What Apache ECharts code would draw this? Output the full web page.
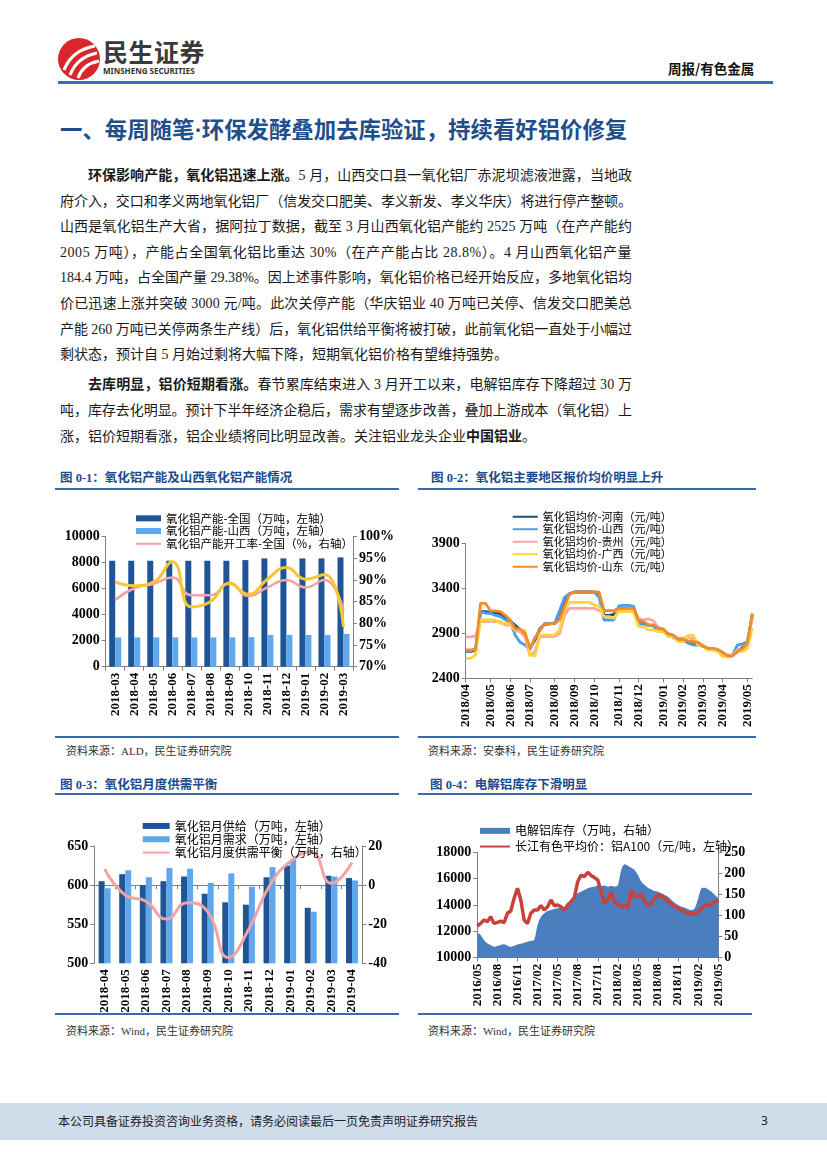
<!DOCTYPE html>
<html><head><meta charset="utf-8">
<script src="https://cdn.jsdelivr.net/npm/echarts@6/dist/echarts.min.js"></script>
<style>
body{margin:0;background:#fff;}
#page{position:relative;width:827px;height:1169px;overflow:hidden;font-family:"Liberation Serif","Noto Sans CJK SC",serif;color:#1a1a1a;background:#fff;}
.abs{position:absolute;}
.tl{position:absolute;left:60px;width:572px;font-size:14px;line-height:20px;height:20px;white-space:nowrap;}
.tl b{font-family:"Liberation Serif","Noto Sans CJK SC";font-weight:bold;}
.ctitle{position:absolute;font-size:12.5px;font-weight:bold;color:#1c4b8c;font-family:"Liberation Serif","Noto Sans CJK SC";line-height:16px;}
.rule{position:absolute;height:2px;background:#3b6aa8;}
.src{position:absolute;font-size:11px;color:#333;line-height:14px;font-family:"Liberation Serif","Noto Sans CJK SC";}
.chart{position:absolute;}
</style></head>
<body><div id="page">
<!-- header -->
<svg class="abs" style="left:57px;top:37px" width="44" height="44" viewBox="0 0 44 44">
<circle cx="22" cy="22" r="21" fill="#d9262c"/>
<path d="M7 33 Q15 13 38 9" stroke="#fff" stroke-width="3.2" fill="none"/>
<path d="M13 38 Q20 20 40 16" stroke="#fff" stroke-width="3.2" fill="none"/>
<path d="M21 41 Q26 27 42 24" stroke="#fff" stroke-width="3.2" fill="none"/>
</svg>
<div class="abs" style="left:103px;top:37px;font-family:'Noto Sans CJK SC';font-weight:bold;font-size:25px;line-height:28px;color:#3a3a3a;letter-spacing:0.5px;">民生证券</div>
<div class="abs" style="left:103px;top:66px;font-family:'Noto Sans';font-weight:bold;font-size:8px;line-height:10px;color:#333;">MINSHENG SECURITIES</div>
<div class="abs" style="left:668px;top:60px;font-family:'Noto Sans CJK SC';font-weight:bold;font-size:13.5px;line-height:16px;color:#111;">周报/有色金属</div>
<div class="abs" style="left:58px;top:81px;width:715px;height:3px;background:#3570b3;"></div>

<div class="abs" style="left:60px;top:114px;font-family:'Noto Sans CJK SC';font-weight:bold;font-size:22.4px;line-height:28px;color:#1f4e8c;white-space:nowrap;">一、每周随笔<span style="font-family:'Liberation Serif';">·</span>环保发酵叠加去库验证，持续看好铝价修复</div>

<div class="tl" style="top:166px;padding-left:28px;width:544px;"><b>环保影响产能，氧化铝迅速上涨。</b>5 月，山西交口县一氧化铝厂赤泥坝滤液泄露，当地政</div>
<div class="tl" style="top:192px;">府介入，交口和孝义两地氧化铝厂（信发交口肥美、孝义新发、孝义华庆）将进行停产整顿。</div>
<div class="tl" style="top:217px;">山西是氧化铝生产大省，据阿拉丁数据，截至 3 月山西氧化铝产能约 2525 万吨（在产产能约</div>
<div class="tl" style="top:243px;">2005 万吨），产能占全国氧化铝比重达 30%（在产产能占比 28.8%）。4 月山西氧化铝产量</div>
<div class="tl" style="top:268px;">184.4 万吨，占全国产量 29.38%。因上述事件影响，氧化铝价格已经开始反应，多地氧化铝均</div>
<div class="tl" style="top:294px;">价已迅速上涨并突破 3000 元/吨。此次关停产能（华庆铝业 40 万吨已关停、信发交口肥美总</div>
<div class="tl" style="top:320px;">产能 260 万吨已关停两条生产线）后，氧化铝供给平衡将被打破，此前氧化铝一直处于小幅过</div>
<div class="tl last" style="top:345px;">剩状态，预计自 5 月始过剩将大幅下降，短期氧化铝价格有望维持强势。</div>

<div class="tl" style="top:375px;padding-left:28px;width:544px;"><b>去库明显，铝价短期看涨。</b>春节累库结束进入 3 月开工以来，电解铝库存下降超过 30 万</div>
<div class="tl" style="top:401px;">吨，库存去化明显。预计下半年经济企稳后，需求有望逐步改善，叠加上游成本（氧化铝）上</div>
<div class="tl last" style="top:427px;">涨，铝价短期看涨，铝企业绩将同比明显改善。关注铝业龙头企业<b>中国铝业</b>。</div>

<!-- chart frames -->
<div class="ctitle" style="left:60px;top:470px;">图 0-1：氧化铝产能及山西氧化铝产能情况</div>
<div class="rule" style="left:55px;top:488px;width:344px;"></div>
<div class="ctitle" style="left:431px;top:470px;">图 0-2：氧化铝主要地区报价均价明显上升</div>
<div class="rule" style="left:418px;top:488px;width:338px;"></div>
<div class="rule" style="left:55px;top:736px;width:344px;"></div>
<div class="rule" style="left:418px;top:736px;width:338px;"></div>
<div class="src" style="left:66px;top:744px;">资料来源：ALD，民生证券研究院</div>
<div class="src" style="left:428px;top:744px;">资料来源：安泰科，民生证券研究院</div>

<div class="ctitle" style="left:60px;top:777px;">图 0-3：氧化铝月度供需平衡</div>
<div class="rule" style="left:55px;top:793px;width:344px;"></div>
<div class="ctitle" style="left:430px;top:777px;">图 0-4：电解铝库存下滑明显</div>
<div class="rule" style="left:418px;top:793px;width:334px;"></div>
<div class="rule" style="left:55px;top:1013px;width:344px;"></div>
<div class="rule" style="left:418px;top:1013px;width:334px;"></div>
<div class="src" style="left:66px;top:1024px;">资料来源：Wind，民生证券研究院</div>
<div class="src" style="left:428px;top:1024px;">资料来源：Wind，民生证券研究院</div>

<div id="c1" class="chart" style="left:55px;top:495px;width:345px;height:240px;"></div>
<div id="c2" class="chart" style="left:418px;top:495px;width:340px;height:240px;"></div>
<div id="c3" class="chart" style="left:55px;top:800px;width:345px;height:212px;"></div>
<div id="c4" class="chart" style="left:418px;top:800px;width:340px;height:212px;"></div>

<!-- footer -->
<div class="abs" style="left:0;top:1103px;width:827px;height:37px;background:#cfdcea;"></div>
<div class="abs" style="left:58px;top:1113px;font-family:'Noto Sans CJK SC';font-size:12px;line-height:16px;color:#222;">本公司具备证券投资咨询业务资格，请务必阅读最后一页免责声明证券研究报告</div>
<div class="abs" style="left:761px;top:1113px;font-family:'Noto Sans';font-size:12px;line-height:16px;color:#222;">3</div>
</div>
<script>
// justify each text line to the column width
document.querySelectorAll('.tl').forEach(el=>{
  const span=document.createElement('span');
  while(el.firstChild) span.appendChild(el.firstChild);
  el.appendChild(span);
  const target=el.clientWidth-parseFloat(getComputedStyle(el).paddingLeft);
  const w=span.getBoundingClientRect().width;
  const n=span.textContent.length;
  if(!el.classList.contains('last') || w>target){ span.style.letterSpacing=((target-w)/n)+'px'; }
});

// ---------- Chart 0-1 data ----------
const cats1 = ['2018-03','2018-04','2018-05','2018-06','2018-07','2018-08','2018-09','2018-10','2018-11','2018-12','2019-01','2019-02','2019-03'];
const capNational = [8150,8150,8150,8150,8150,8150,8150,8200,8330,8330,8330,8330,8410];
const capShanxi = [2250,2250,2250,2250,2250,2250,2250,2280,2440,2440,2440,2440,2525];
const rateNational = [85.4,88.1,89.1,90.6,86.5,86.5,89.4,86.3,88.3,90.0,88.3,90.0,82.9];
const rateOther = [89.6,88.7,89.5,94.2,83.8,85.0,89.2,86.7,90.2,92.9,90.2,91.3,79.2];

// ---------- Chart 0-2 data (weekly, from 2018/04/02) ----------
const priceHenan = [2700,2700,2710,3140,3140,3130,3130,3120,3080,3040,2990,2940,2880,2740,2820,2950,3000,3004,3010,3060,3250,3340,3359,3359,3359,3359,3359,3340,3100,3100,3110,3180,3180,3180,3180,3030,3020,2990,2985,2950,2940,2890,2875,2830,2830,2810,2800,2790,2755,2730,2730,2715,2680,2650,2650,2700,2740,2780,3110];
const priceShanxi = [2700,2704,2730,3140,3125,3120,3100,3085,3050,3030,2880,2800,2770,2715,2850,2930,3011,3011,3015,3150,3300,3340,3359,3359,3359,3359,3359,3300,3048,3048,3050,3204,3210,3210,3200,3010,2993,2990,2980,2920,2918,2900,2850,2826,2826,2790,2770,2770,2760,2730,2715,2715,2660,2648,2660,2770,2780,2807,3100];
const priceGuizhou = [2860,2860,2870,3030,3030,3030,3030,3030,2993,2993,2930,2918,2860,2650,2700,2863,2863,2863,2863,2900,3100,3178,3178,3178,3178,3178,3178,3150,3150,3150,3150,3160,3160,3160,3160,3067,3048,3060,3040,2955,2950,2880,2870,2845,2845,2863,2833,2800,2760,2733,2733,2720,2660,2660,2660,2715,2715,2790,3070];
const priceGuangxi = [2622,2622,2660,3048,3048,3048,3048,3011,3011,3011,2937,2937,2930,2660,2650,2880,2880,2880,2880,2937,3150,3244,3244,3244,3244,3244,3215,3200,3085,3085,3067,3140,3140,3140,3140,2975,2975,2937,2937,2918,2918,2863,2863,2807,2807,2880,2880,2770,2770,2715,2715,2700,2640,2640,2660,2696,2700,2733,2960];
const priceShandong = [2715,2715,2720,3233,3233,3150,3150,3140,3100,3048,2950,2948,2900,2733,2845,2937,3004,3004,3010,3050,3200,3330,3359,3359,3359,3359,3359,3359,3152,3152,3152,3178,3178,3178,3178,3040,3030,2993,2993,2960,2944,2890,2880,2833,2833,2815,2807,2800,2760,2733,2733,2720,2690,2648,2650,2696,2730,2789,3122];

// ---------- Chart 0-3 data ----------
const cats3 = ['2018-04','2018-05','2018-06','2018-07','2018-08','2018-09','2018-10','2018-11','2018-12','2019-01','2019-02','2019-03','2019-04'];
const supply = [605,614,600,605,611,589,578,575,610,625,571,612,609];
const demand = [596,619,610,622,621,603,615,598,623,633,566,611,606];
const balance = [8.3,-5.1,-8.2,-17.4,-9.0,-13.6,-37,-22.5,-0.3,12,17,0.9,11.6];

// ---------- Chart 0-4 data (half-monthly, from 2016/05) ----------
const inventory = [60,54,42,34,30,26,27.7,30,32,28.5,26,28.5,31.6,33,35.6,38,39.6,42,77.5,97,105,110.8,113,115.5,117,118.7,120,125,131,141,152.7,156.6,160.6,164.6,167,168.5,171,
  170,171,168.5,170,168.5,172.5,208,221.5,218,213.6,208,196,180,172.5,166,162,158,156.6,152.7,148.7,144.8,137,130.5,125,121,118.7,115,113,118,141,164.6,166,162,156.6,148.7,141];
const alPrice = [12400,12600,12860,12730,13110,12600,12680,12780,12660,13370,13540,14500,15270,14380,12860,12600,13370,13620,13620,13950,13620,13870,14380,13950,14000,13870,13620,14000,14250,14560,15770,16280,16150,16480,16230,16080,15900,
  15010,14130,14380,15010,14250,14050,13870,14000,13750,15140,14630,14700,14810,14250,13950,14130,14500,14760,14700,14500,14300,14050,13870,13750,13620,13490,13370,13370,13290,13490,13750,14000,13950,14050,14250,14380];

// categories (dates)
function pad(n){return (n<10?'0':'')+n;}
const weeks2 = [];
for(let k=0;k<priceShandong.length;k++){const d=new Date(2018,3,2+7*k);weeks2.push(d.getFullYear()+'/'+pad(d.getMonth()+1)+'/'+pad(d.getDate()));}
const halfMonths4 = [];
for(let i=0;i<inventory.length;i++){const m=4+Math.floor(i/2);const y=2016+Math.floor(m/12);halfMonths4.push(y+'/'+pad(m%12+1)+(i%2?'/16':'/01'));}
function monthStart(i){return i===0 || weeks2[i].slice(0,7)!==weeks2[i-1].slice(0,7);}

const axisCol = '#808080';
const tickFont = {fontFamily:'Liberation Serif',fontWeight:'bold',fontSize:14,color:'#000'};
const xFont = {fontFamily:'Liberation Serif',fontWeight:'bold',fontSize:13,color:'#000'};
const legendText = (fs,lh)=>({fontFamily:'Noto Sans CJK SC',fontSize:fs,lineHeight:lh,color:'#000'});
const plain = (v)=>String(v);
function vAxis(extra){
  return Object.assign({type:'value',axisLine:{show:true,lineStyle:{color:axisCol}},axisTick:{show:true,length:4,lineStyle:{color:axisCol}},splitLine:{show:false},axisLabel:Object.assign({margin:6,formatter:plain},tickFont)},extra);
}
function cAxis(data,extra){
  return Object.assign({type:'category',data:data,axisLine:{show:true,lineStyle:{color:axisCol}},axisTick:{show:true,length:4,lineStyle:{color:axisCol}},axisLabel:Object.assign({rotate:90,margin:6,interval:0},xFont)},extra);
}
const lineLegend = (name)=>({name:name,itemStyle:{opacity:0}});
const DARK='#1f5597', LIGHT='#5fa8ee';

// Chart 0-1
const n1 = ['氧化铝产能-全国（万吨，左轴）','氧化铝产能-山西（万吨，左轴）','氧化铝产能开工率-全国（%，右轴）'];
echarts.init(document.getElementById('c1')).setOption({
  animation:false,
  grid:{left:50.7,top:41.7,width:247.3,height:130,containLabel:false,outerBoundsMode:'none'},
  legend:{orient:'vertical',left:75,top:12,itemWidth:25,itemHeight:6,itemGap:0,textStyle:legendText(11.5,12.7),
    data:[{name:n1[0],icon:'rect'},{name:n1[1],icon:'rect'},lineLegend(n1[2])]},
  xAxis:cAxis(cats1),
  yAxis:[vAxis({min:0,max:10000,interval:2000}),
         vAxis({min:70,max:100,interval:5,position:'right',axisLabel:Object.assign({margin:6,formatter:'{value}%'},tickFont)})],
  series:[
    {name:n1[0],type:'bar',data:capNational,barWidth:6,barGap:'0%',itemStyle:{color:DARK}},
    {name:n1[1],type:'bar',data:capShanxi,barWidth:6,barGap:'0%',itemStyle:{color:LIGHT}},
    {name:n1[2],type:'line',yAxisIndex:1,data:rateNational,smooth:true,symbol:'none',lineStyle:{width:2.5,color:'#f4a3a3'},itemStyle:{color:'#f4a3a3'}},
    {name:'氧化铝产能开工率-山西',type:'line',yAxisIndex:1,data:rateOther,smooth:true,symbol:'none',lineStyle:{width:3,color:'#f7c631'},itemStyle:{color:'#f7c631'}}
  ]
});

// Chart 0-2
const n2 = ['氧化铝均价-河南（元/吨）','氧化铝均价-山西（元/吨）','氧化铝均价-贵州（元/吨）','氧化铝均价-广西（元/吨）','氧化铝均价-山东（元/吨）'];
const c2cols = ['#1f4e79','#4d9de6','#f7a6a6','#ffd43b','#f28a2e'];
const c2data = [priceHenan,priceShanxi,priceGuizhou,priceGuangxi,priceShandong];
echarts.init(document.getElementById('c2')).setOption({
  animation:false,
  grid:{left:47.7,top:48.3,width:286.6,height:135,containLabel:false,outerBoundsMode:'none'},
  legend:{orient:'vertical',left:88.7,top:10.5,itemWidth:25,itemHeight:5,itemGap:0,textStyle:legendText(11,12.5),data:n2.map(lineLegend)},
  xAxis:cAxis(weeks2,{boundaryGap:false,axisTick:{show:true,length:4,interval:(i)=>monthStart(i),lineStyle:{color:axisCol}},
    axisLabel:Object.assign({rotate:90,margin:6,interval:(i)=>monthStart(i),formatter:(v)=>v.slice(0,7)},xFont)}),
  yAxis:vAxis({min:2400,max:3900,interval:500}),
  series:n2.map((nm,i)=>({name:nm,type:'line',data:c2data[i],symbol:'none',lineStyle:{width:2.8,color:c2cols[i]},itemStyle:{color:c2cols[i]}}))
});

// Chart 0-3
const n3 = ['氧化铝月供给（万吨，左轴）','氧化铝月需求（万吨，左轴）','氧化铝月度供需平衡（万吨，右轴）'];
echarts.init(document.getElementById('c3')).setOption({
  animation:false,
  grid:{left:39.3,top:46,width:268,height:117.3,containLabel:false,outerBoundsMode:'none'},
  legend:{orient:'vertical',left:81.7,top:14.3,itemWidth:27,itemHeight:6,itemGap:0,textStyle:legendText(12,13.3),
    data:[{name:n3[0],icon:'rect'},{name:n3[1],icon:'rect'},lineLegend(n3[2])]},
  xAxis:cAxis(cats3),
  yAxis:[vAxis({min:500,max:650,interval:50}),
         vAxis({min:-40,max:20,interval:20,position:'right'})],
  series:[
    {name:n3[0],type:'bar',data:supply,barWidth:6,barGap:'0%',itemStyle:{color:DARK}},
    {name:n3[1],type:'bar',data:demand,barWidth:6,barGap:'0%',itemStyle:{color:LIGHT}},
    {name:n3[2],type:'line',yAxisIndex:1,data:balance,smooth:true,symbol:'none',lineStyle:{width:3,color:'#f4a3a3'},itemStyle:{color:'#f4a3a3'}}
  ]
});

// Chart 0-4
const n4 = ['电解铝库存（万吨，右轴）','长江有色平均价：铝A100（元/吨，左轴）'];
echarts.init(document.getElementById('c4')).setOption({
  animation:false,
  grid:{left:59.3,top:52.3,width:241,height:105.4,containLabel:false,outerBoundsMode:'none'},
  legend:{orient:'vertical',left:56,top:18,itemWidth:30,itemHeight:6,itemGap:0,textStyle:legendText(12,15.7),
    data:[{name:n4[0],icon:'rect'},lineLegend(n4[1])]},
  xAxis:cAxis(halfMonths4,{boundaryGap:false,axisTick:{show:true,length:4,interval:5,lineStyle:{color:axisCol}},
    axisLabel:Object.assign({rotate:90,margin:6,interval:5,formatter:(v)=>v.slice(0,7)},xFont)}),
  yAxis:[vAxis({min:10000,max:18000,interval:2000}),
         vAxis({min:0,max:250,interval:50,position:'right'})],
  series:[
    {name:n4[0],type:'line',yAxisIndex:1,data:inventory,symbol:'none',smooth:0.3,lineStyle:{width:0},areaStyle:{color:'#4a7ebf',opacity:1},itemStyle:{color:'#4a7ebf'}},
    {name:n4[1],type:'line',yAxisIndex:0,data:alPrice,symbol:'none',lineStyle:{width:3.5,color:'#c8413b'},itemStyle:{color:'#c8413b'}}
  ]
});
</script>
</body></html>
